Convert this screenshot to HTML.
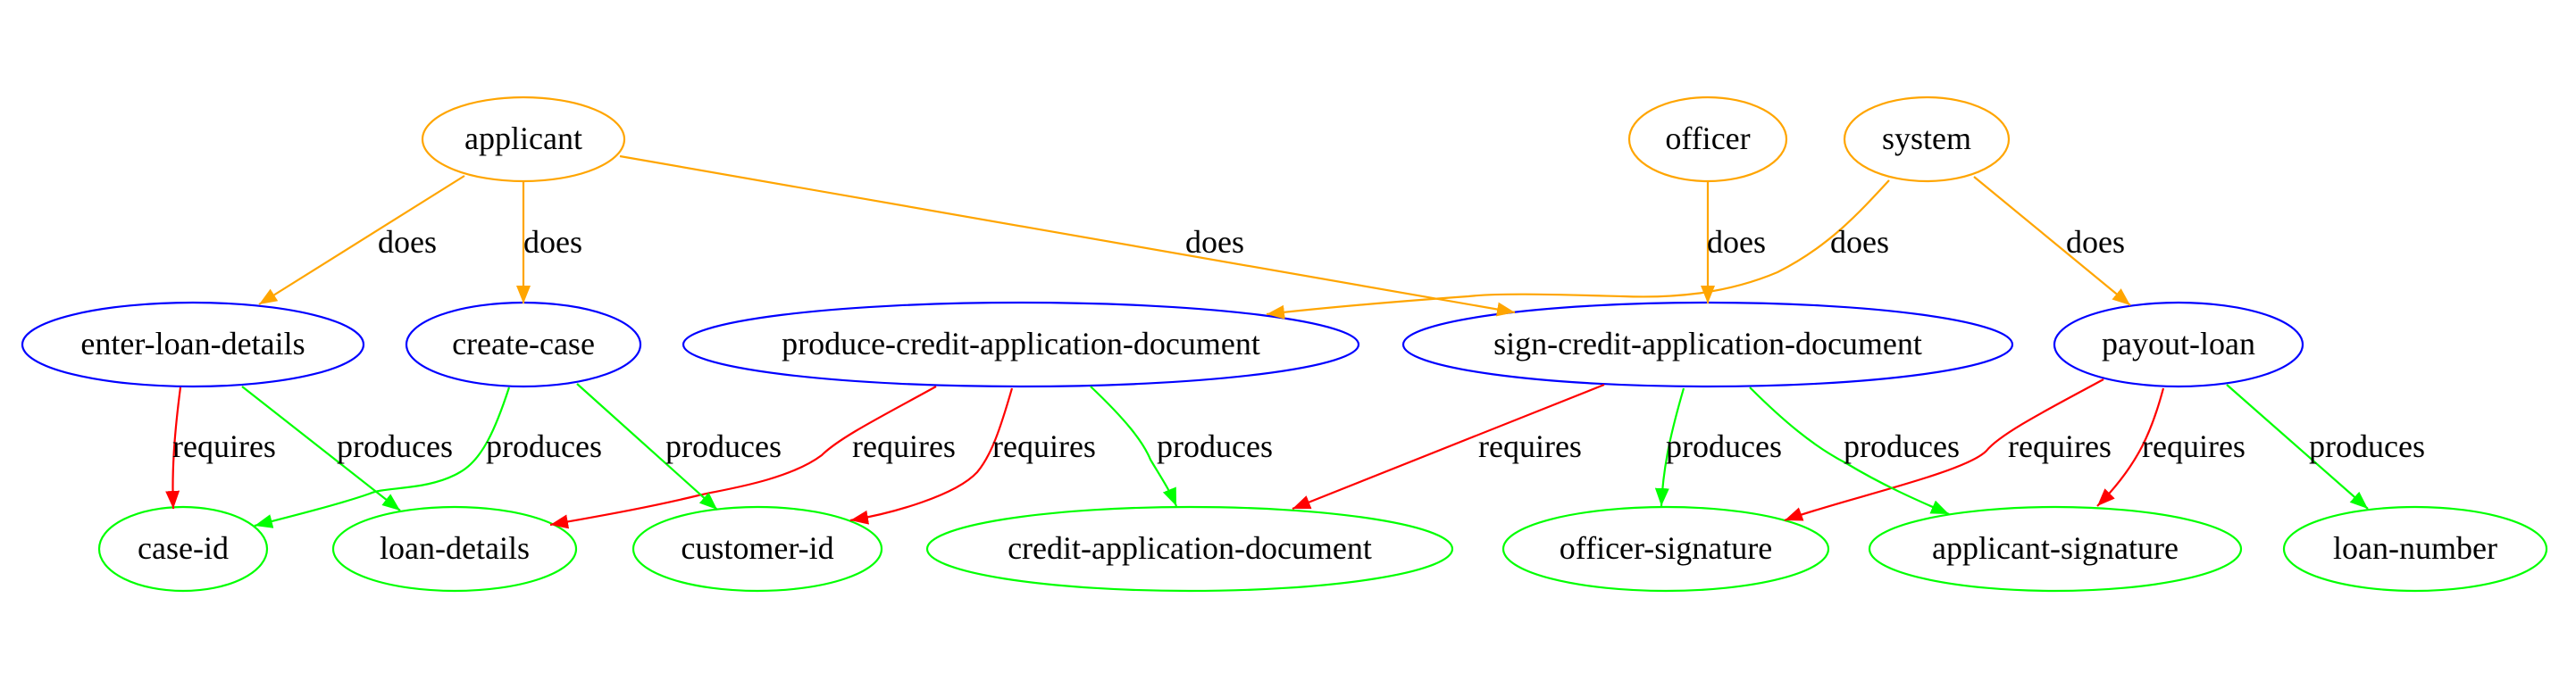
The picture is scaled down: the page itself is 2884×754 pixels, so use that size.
<!DOCTYPE html>
<html><head><meta charset="utf-8"><style>
html,body{margin:0;padding:0;background:#fff;}
svg{display:block;}
text{font-family:"Liberation Serif",serif;font-size:36px;fill:#000;}
</style></head><body>
<svg width="2884" height="754" viewBox="0 0 2884 754" xmlns="http://www.w3.org/2000/svg">
<defs>
<marker id="ao" markerUnits="userSpaceOnUse" markerWidth="22" markerHeight="16" refX="20" refY="8" orient="auto"><path d="M0,0 L20,8 L0,16 z" fill="#FFA500"/></marker>
<marker id="ag" markerUnits="userSpaceOnUse" markerWidth="22" markerHeight="16" refX="20" refY="8" orient="auto"><path d="M0,0 L20,8 L0,16 z" fill="#00FF00"/></marker>
<marker id="ar" markerUnits="userSpaceOnUse" markerWidth="22" markerHeight="16" refX="20" refY="8" orient="auto"><path d="M0,0 L20,8 L0,16 z" fill="#FF0000"/></marker>
</defs>
<g fill="none" stroke-width="2.2">
<g stroke="#FFA500">
<ellipse cx="586" cy="156" rx="113" ry="47"/>
<ellipse cx="1912" cy="156" rx="88" ry="47"/>
<ellipse cx="2157" cy="156" rx="92" ry="47"/>
</g>
<g stroke="#0000FF">
<ellipse cx="216" cy="386" rx="191" ry="47"/>
<ellipse cx="586" cy="386" rx="131" ry="47"/>
<ellipse cx="1143" cy="386" rx="378" ry="47"/>
<ellipse cx="1912" cy="386" rx="341" ry="47"/>
<ellipse cx="2439" cy="386" rx="139" ry="47"/>
</g>
<g stroke="#00FF00">
<ellipse cx="205" cy="615" rx="94" ry="47"/>
<ellipse cx="509" cy="615" rx="136" ry="47"/>
<ellipse cx="848" cy="615" rx="139" ry="47"/>
<ellipse cx="1332" cy="615" rx="294" ry="47"/>
<ellipse cx="1865" cy="615" rx="182" ry="47"/>
<ellipse cx="2301" cy="615" rx="208" ry="47"/>
<ellipse cx="2704" cy="615" rx="147" ry="47"/>
</g>
<g stroke="#FFA500" marker-end="url(#ao)">
<path d="M520,197 L290,341"/>
<path d="M586,204 L586,340"/>
<path d="M694,175 L1696,350"/>
<path d="M1912,204 L1912,340"/>
<path d="M2115,202 C2080,240 2046,277 1990,305 C1931,330 1870,334 1817,332 C1740,330 1680,328 1644,332 C1560,338 1480,345 1418,352"/>
<path d="M2210,198 L2385,342"/>
</g>
<g stroke="#FF0000" marker-end="url(#ar)">
<path d="M202,434 C196,480 192,525 194,570"/>
<path d="M1048,433 C990,465 940,490 920,510 C880,540 800,550 782,555 C720,570 660,580 616,588"/>
<path d="M1133,435 C1120,480 1110,510 1094,529 C1070,555 1000,575 952,583"/>
<path d="M1796,431 L1447,570"/>
<path d="M2355,425 C2300,455 2240,485 2224,505 C2200,530 2060,560 1998,583"/>
<path d="M2422,435 C2410,480 2395,520 2348,567"/>
</g>
<g stroke="#00FF00" marker-end="url(#ag)">
<path d="M271,433 L448,572"/>
<path d="M570,434 C555,480 540,515 515,529 C480,550 430,545 414,553 C380,565 320,580 285,589"/>
<path d="M646,430 L803,571"/>
<path d="M1221,433 C1260,470 1280,495 1288,515 C1300,535 1310,550 1317,567"/>
<path d="M1885,435 C1872,480 1862,520 1860,567"/>
<path d="M1959,434 C1995,470 2030,500 2067,519 C2110,545 2150,562 2182,576"/>
<path d="M2493,431 L2651,570"/>
</g>
</g>
<g text-anchor="middle">
<text x="586" y="167">applicant</text>
<text x="1912" y="167">officer</text>
<text x="2157" y="167">system</text>
<text x="216" y="397">enter-loan-details</text>
<text x="586" y="397">create-case</text>
<text x="1143" y="397">produce-credit-application-document</text>
<text x="1912" y="397">sign-credit-application-document</text>
<text x="2439" y="397">payout-loan</text>
<text x="205" y="626">case-id</text>
<text x="509" y="626">loan-details</text>
<text x="848" y="626">customer-id</text>
<text x="1332" y="626">credit-application-document</text>
<text x="1865" y="626">officer-signature</text>
<text x="2301" y="626">applicant-signature</text>
<text x="2704" y="626">loan-number</text>
</g>
<text x="423" y="283">does</text>
<text x="586" y="283">does</text>
<text x="1327" y="283">does</text>
<text x="1911" y="283">does</text>
<text x="2049" y="283">does</text>
<text x="2313" y="283">does</text>
<text x="193" y="512">requires</text>
<text x="377" y="512">produces</text>
<text x="544" y="512">produces</text>
<text x="745" y="512">produces</text>
<text x="954" y="512">requires</text>
<text x="1111" y="512">requires</text>
<text x="1295" y="512">produces</text>
<text x="1655" y="512">requires</text>
<text x="1865" y="512">produces</text>
<text x="2064" y="512">produces</text>
<text x="2248" y="512">requires</text>
<text x="2398" y="512">requires</text>
<text x="2585" y="512">produces</text>
</svg>
</body></html>
